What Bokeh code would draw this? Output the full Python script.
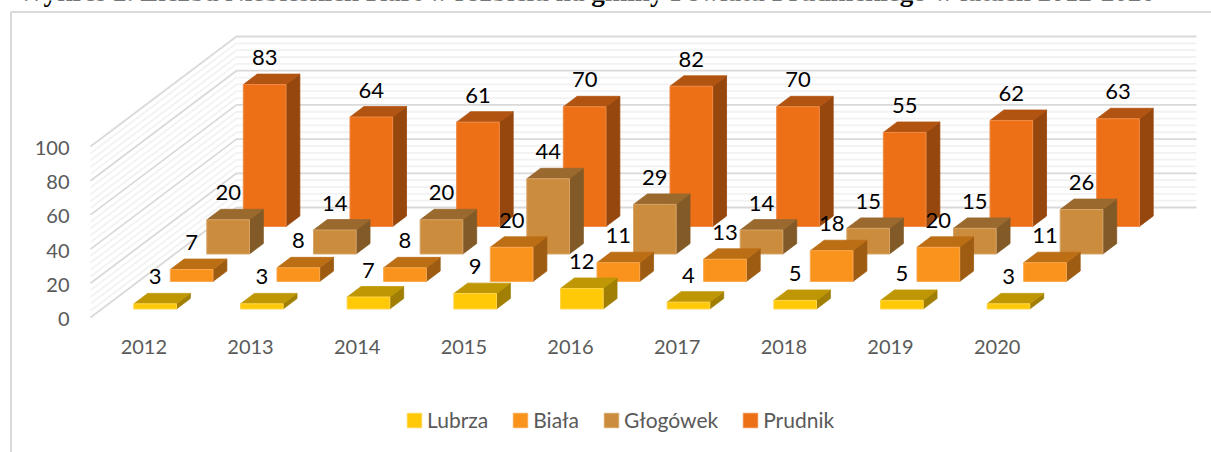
from bokeh.embed import file_html
from bokeh.resources import INLINE
from bokeh.plotting import figure
from bokeh.models import Range1d, LinearAxis, FixedTicker, Legend, LegendItem
from bokeh.core.properties import value as V

TITLE = "Wykres 2. Liczba Niebieskich Kart w rozbiciu na gminy Powiatu Prudnickiego w latach 2012-2020"
years = ["2012", "2013", "2014", "2015", "2016", "2017", "2018", "2019", "2020"]
series_names = ["Lubrza", "Biała", "Głogówek", "Prudnik"]
lubrza = [3, 3, 7, 9, 12, 4, 5, 5, 3]
biala = [7, 8, 8, 20, 11, 13, 18, 20, 11]
glogowek = [20, 14, 20, 44, 29, 14, 15, 15, 26]
prudnik = [83, 64, 61, 70, 82, 70, 55, 62, 63]
series_values = [lubrza, biala, glogowek, prudnik]
front_colors = ["#FFC907", "#FA931C", "#CC8C3E", "#ED7017"]
top_colors = ["#BF9705", "#BC6E15", "#99692E", "#B25411"]
side_colors = ["#A07F04", "#9E5C12", "#825A27", "#96470E"]
edge_colors = ["#FFD54A", "#FBA84E", "#D6A468", "#F08B45"]
y_ticks = [0, 20, 40, 60, 80, 100]
minor_ticks = [v for v in range(0, 101, 4) if v % 20]

# page geometry (pixels)
W, H = 1211, 452
X0, CAT_PX = 90.0, 106.67
Y0, UNIT_PX = 317.0, 1.71
DEPTH_DX, DEPTH_DY = 36.5, 27.5
BAR_W, BAR_D = 0.40, 0.38
TXT = "#595959"
FONT = "Lato"


def ix(px):
    return (px - X0) / CAT_PX


def iy(py):
    return (Y0 - py) / UNIT_PX


def proj(c, d, v):
    """Category position, depth position and value to the figure's data space."""
    return c + d * DEPTH_DX / CAT_PX, v + d * DEPTH_DY / UNIT_PX


p = figure(width=W, height=H, x_range=Range1d(ix(0), ix(W)), y_range=Range1d(iy(H), iy(0)),
           output_backend="svg", toolbar_location=None, min_border=0, outline_line_color=None,
           x_axis_type=None, y_axis_type=None, margin=(0, 0, 0, 0))
p.xgrid.visible = False
p.ygrid.visible = False

# chart frame
p.line([ix(W + 20), ix(10.5), ix(10.5)], [iy(11.5), iy(11.5), iy(H + 20)], line_color="#D9D9D9", line_width=2)

# title, cut by the top of the picture
p.text([ix(17)], [iy(1)], text=[TITLE], y_offset=-10, text_font=V("Liberation Serif"), text_font_style="bold",
       text_font_size="27.1px", text_color="#000000", text_baseline="alphabetic", text_align="left")


# walls
def wall_lines(ticks, color, width):
    xs, ys = [], []
    for v in ticks:
        a, b, c = proj(0, 0, v), proj(0, 4, v), proj(9, 4, v)
        xs.append([a[0], b[0], c[0]])
        ys.append([a[1], b[1], c[1]])
    p.multi_line(xs, ys, line_color=color, line_width=width)


wall_lines(minor_ticks, "#F2F2F2", 1.8)
wall_lines(y_ticks, "#D9D9D9", 1.8)

# bars, from the back row to the front row
front_renderers = {}
label_x, label_y, label_t = [], [], []
for s in (3, 2, 1, 0):
    fx, fy, tx, ty, sx, sy = [], [], [], [], [], []
    for i, val in enumerate(series_values[s]):
        l, r = i + 0.5 - BAR_W / 2, i + 0.5 + BAR_W / 2
        d0, d1 = s + 0.5 - BAR_D / 2, s + 0.5 + BAR_D / 2
        corners = [proj(l, d0, 0), proj(r, d0, 0), proj(r, d0, val), proj(l, d0, val)]
        fx.append([q[0] for q in corners]); fy.append([q[1] for q in corners])
        corners = [proj(l, d0, val), proj(r, d0, val), proj(r, d1, val), proj(l, d1, val)]
        tx.append([q[0] for q in corners]); ty.append([q[1] for q in corners])
        corners = [proj(r, d0, 0), proj(r, d1, 0), proj(r, d1, val), proj(r, d0, val)]
        sx.append([q[0] for q in corners]); sy.append([q[1] for q in corners])
        q = proj(i + 0.5, d0, val)
        label_x.append(q[0]); label_y.append(q[1]); label_t.append(str(val))
    p.patches(sx, sy, fill_color=side_colors[s], line_color=side_colors[s], line_width=0.8)
    p.patches(tx, ty, fill_color=top_colors[s], line_color=top_colors[s], line_width=0.8)
    front_renderers[s] = p.patches(fx, fy, fill_color=front_colors[s], line_color=edge_colors[s], line_width=1)

# data labels
p.text(label_x, label_y, text=label_t, y_offset=-27, text_font=V(FONT), text_font_size="22px",
       text_color="#000000", text_align="center", text_baseline="middle")

# axes
p.extra_y_ranges["tick_labels"] = Range1d(iy(H - 1.5), iy(-1.5))
ax = LinearAxis(ticker=FixedTicker(ticks=y_ticks), fixed_location=ix(80), axis_line_color=None,
                y_range_name="tick_labels",
                major_tick_line_color=None, minor_tick_line_color=None, major_label_standoff=5,
                major_label_text_font=FONT, major_label_text_font_size="20px", major_label_text_color=TXT)
p.add_layout(ax, "left")
cat_pos = [i + 0.5 for i in range(len(years))]
bx = LinearAxis(ticker=FixedTicker(ticks=cat_pos), fixed_location=iy(331),
                major_label_overrides={c: y for c, y in zip(cat_pos, years)}, axis_line_color=None,
                major_tick_line_color=None, minor_tick_line_color=None, major_label_standoff=2,
                major_label_text_font=FONT, major_label_text_font_size="20px", major_label_text_color=TXT)
p.add_layout(bx, "below")

# legend
legend = Legend(items=[LegendItem(label=series_names[s], renderers=[front_renderers[s]]) for s in range(4)],
                orientation="horizontal", location=(405, H - 432), background_fill_alpha=0, border_line_color=None,
                glyph_width=18, glyph_height=18, label_standoff=4, spacing=23, padding=0, margin=0,
                label_text_font=FONT, label_text_font_size="21px", label_text_color=TXT)
p.add_layout(legend, "center")

open("out.html", "w").write(file_html(p, INLINE))
